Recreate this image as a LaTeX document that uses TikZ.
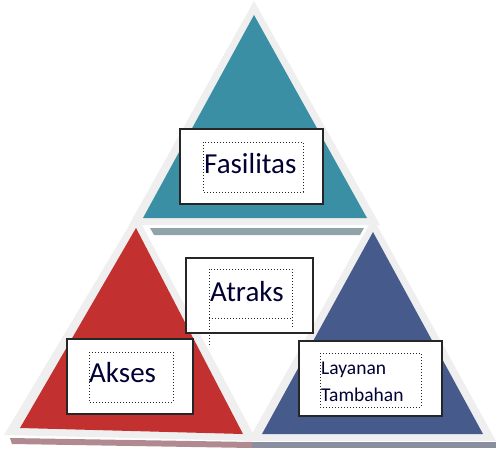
\documentclass[tikz,border=0pt]{standalone}
\usepackage{fontspec}
\setmainfont{Carlito}
\usetikzlibrary{calc}

\definecolor{tealtri}{HTML}{3A8FA5}
\definecolor{redtri}{HTML}{C2302F}
\definecolor{bluetri}{HTML}{465A8C}
\definecolor{rim}{HTML}{EFEFEF}
\definecolor{strip}{HTML}{8FA3A9}
\definecolor{redshade}{HTML}{B08A90}
\definecolor{blueshade}{HTML}{8A8FA0}

\tikzset{
	box/.style={draw=black!85, line width=1.2pt, fill=white, inner sep=0pt, minimum height=75pt},
	frame/.style={dotted, line width=1pt, black!85},
	word/.style={anchor=base west, inner sep=0pt, font=\fontsize{29}{30}\selectfont, text=black!80!blue}
}

\begin{document}
\begin{tikzpicture}[x=1pt,y=-1pt]
			\useasboundingbox (0,0) rectangle (496,448);
			
			% reflections under the big triangle
			\fill[redshade] (10,438) -- (252,442) -- (252,448) -- (12,444) -- cycle;
			\fill[blueshade] (252,442) -- (496,442) -- (496,448) -- (252,448) -- cycle;
			
			\fill[rim] (254,1) -- (129,225) -- (380,225) -- cycle;
			\fill[rim] (136,214) -- (4,435) -- (257,441) -- cycle;
			\fill[rim] (373,218) -- (248,441) -- (496,441) -- cycle;
			\fill[strip] (150,228) -- (364,228) -- (360,235) -- (154,235) -- cycle;
			
			\fill[tealtri] (254,15) -- (143,218) -- (367,218) -- cycle;
			\fill[redtri] (136,228) -- (20,428) -- (243,434) -- cycle;
			\fill[bluetri] (373,232) -- (262,434) -- (483,434) -- cycle;
			
			\node[box, minimum width=143pt] (fas) at (251.5,166.5) {};
			\node[box, minimum width=127pt] (atr) at (249.5,295.5) {};
			\node[box, minimum width=126pt] (aks) at (130,376.5) {};
			\node[box, minimum width=143pt] (lay) at (370.5,378.5) {};
			
			\draw[frame] (203,142) rectangle (303,192);
			\draw[frame] (209,345) -- (209,269) -- (292,269) -- (292,327);
			\draw[frame] (209,318) -- (292,318);
			\draw[frame] (89,352) rectangle (173,402);
			\draw[frame] (320,353) rectangle (421,407);
			
			\node[word] (fasT) at (204,173) {Fasilitas};
			\node[word] (atrT) at (210,301) {Atraks};
			\node[word] (aksT) at (89,382) {Akses};
			\node[word, font=\fontsize{19.5}{27}\selectfont, align=left, anchor=north west] (layT) at (321,362) {Layanan\\Tambahan};
		\end{tikzpicture}
\end{document}
